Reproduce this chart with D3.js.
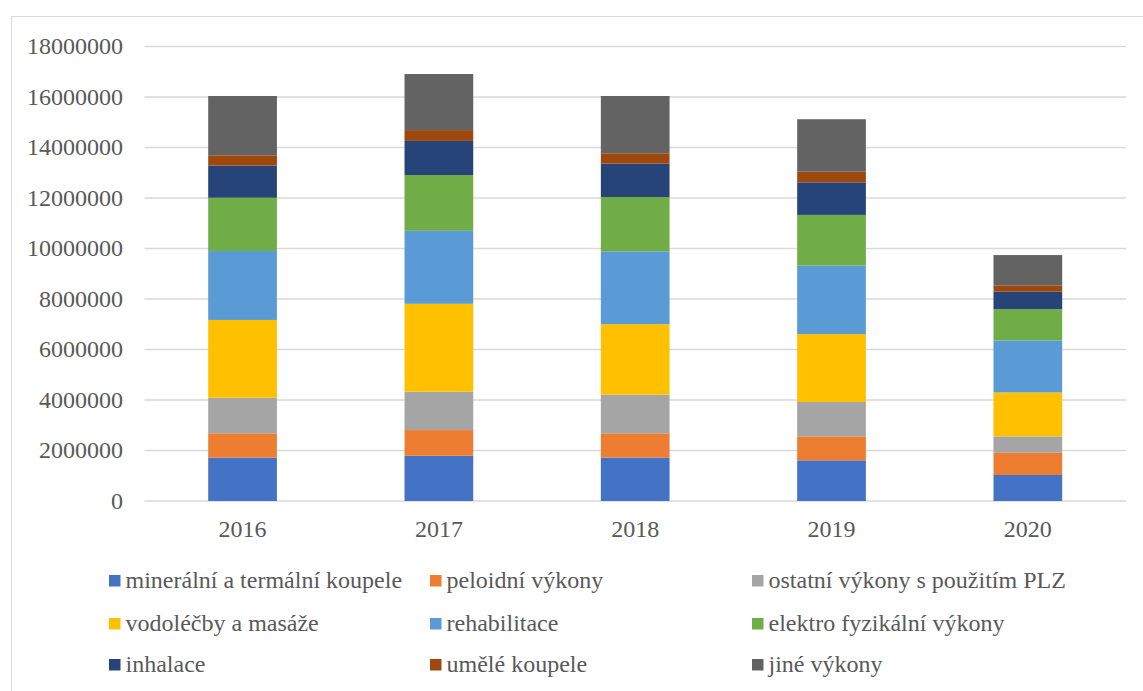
<!DOCTYPE html>
<html>
<head>
<meta charset="utf-8">
<script src="https://d3js.org/d3.v7.min.js"></script>
<style>
  body { margin: 0; background: #fff; }
</style>
</head>
<body>
<div id="chart"></div>
<script>
const years = ['2016', '2017', '2018', '2019', '2020']

const mineralni = [1720000, 1790000, 1720000, 1610000, 1030000]
const peloidni  = [960000, 1020000, 960000, 950000, 880000]
const ostatni   = [1410000, 1520000, 1530000, 1360000, 650000]
const vodolecby = [3080000, 3480000, 2790000, 2690000, 1740000]
const rehabil   = [2730000, 2890000, 2890000, 2710000, 2060000]
const elektro   = [2110000, 2210000, 2150000, 2010000, 1240000]
const inhalace  = [1270000, 1350000, 1320000, 1290000, 690000]
const umele     = [410000, 430000, 410000, 420000, 250000]
const jine      = [2350000, 2220000, 2270000, 2080000, 1200000]

const seriesNames = ['minerální a termální koupele', 'peloidní výkony', 'ostatní výkony s použitím PLZ',
  'vodoléčby a masáže', 'rehabilitace', 'elektro fyzikální výkony', 'inhalace', 'umělé koupele', 'jiné výkony']
const seriesValues = [mineralni, peloidni, ostatni, vodolecby, rehabil, elektro, inhalace, umele, jine]
const colors = ['#4472C4', '#ED7D31', '#A5A5A5', '#FFC000', '#5B9BD5', '#70AD47', '#264478', '#9E480E', '#636363']
const yTicks = [0, 2000000, 4000000, 6000000, 8000000, 10000000, 12000000, 14000000, 16000000, 18000000]

const W = 1143, H = 691
const FONT = "'Liberation Serif', 'Tinos', 'DejaVu Serif', serif"

const svg = d3.select('#chart').append('svg')
  .attr('width', W)
  .attr('height', H)
  .style('font-family', FONT)

// outer frame
svg.append('rect')
  .attr('x', 11.5).attr('y', 16.5)
  .attr('width', W + 10).attr('height', H + 10)
  .style('fill', 'none')
  .style('stroke', '#d9d9d9')
  .style('stroke-width', 1)

const table = years.map((y, i) => {
  const row = { year: y }
  seriesNames.forEach((s, j) => { row[s] = seriesValues[j][i] })
  return row
})

const stacked = d3.stack().keys(seriesNames)(table)

const x = d3.scaleBand()
  .domain(years)
  .range([144.4, 1126])
  .paddingInner(0.65)
  .paddingOuter(0.325)

const y = d3.scaleLinear()
  .domain([0, 18000000])
  .range([501, 46.5])

// gridlines
svg.append('g')
  .selectAll('line')
  .data(yTicks)
  .enter()
  .append('line')
  .attr('x1', 144.4)
  .attr('x2', 1126)
  .attr('y1', d => y(d))
  .attr('y2', d => y(d))
  .style('stroke', '#d9d9d9')
  .style('stroke-width', 1.6)

// y labels
svg.append('g')
  .selectAll('text')
  .data(yTicks)
  .enter()
  .append('text')
  .attr('x', 123)
  .attr('y', d => y(d))
  .attr('dy', '0.33em')
  .attr('font-family', FONT)
  .style('fill', '#595959')
  .style('text-anchor', 'end')
  .style('font-size', '24px')
  .text(d => d)

// bars
svg.append('g')
  .selectAll('g')
  .data(stacked)
  .enter()
  .append('g')
  .style('fill', (d, i) => colors[i])
  .selectAll('rect')
  .data(d => d)
  .enter()
  .append('rect')
  .attr('x', d => x(d.data.year))
  .attr('width', x.bandwidth())
  .attr('y', d => y(d[1]))
  .attr('height', d => y(d[0]) - y(d[1]))

// x labels
svg.append('g')
  .selectAll('text')
  .data(years)
  .enter()
  .append('text')
  .attr('x', d => x(d) + x.bandwidth() / 2)
  .attr('y', 537)
  .attr('font-family', FONT)
  .style('fill', '#595959')
  .style('text-anchor', 'middle')
  .style('font-size', '24px')
  .text(d => d)

// legend, 3 columns
const colX = [109, 430, 752]
const rowY = [575, 618, 659]
const legend = svg.append('g')
  .selectAll('g')
  .data(seriesNames)
  .enter()
  .append('g')
  .attr('transform', (d, i) => 'translate(' + colX[i % 3] + ',' + rowY[Math.floor(i / 3)] + ')')

legend.append('rect')
  .attr('width', 11.5)
  .attr('height', 11.5)
  .style('fill', (d, i) => colors[i])

legend.append('text')
  .attr('x', 16.5)
  .attr('y', 13)
  .attr('font-family', FONT)
  .style('fill', '#595959')
  .style('font-size', '24px')
  .text(d => d)
</script>
</body>
</html>
